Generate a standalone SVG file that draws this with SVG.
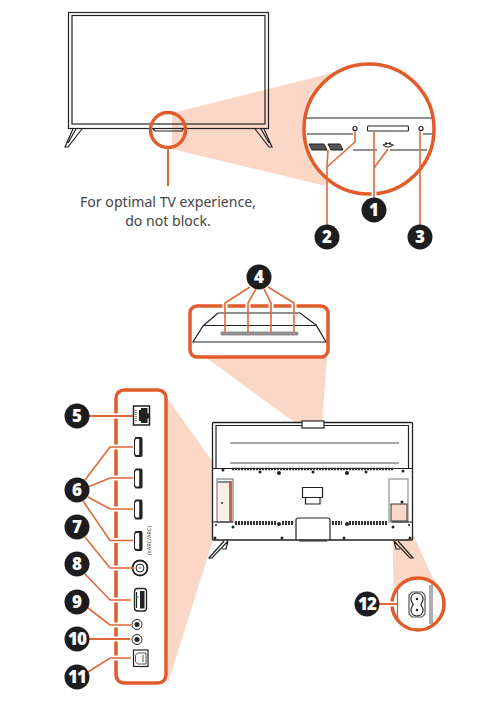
<svg xmlns="http://www.w3.org/2000/svg" width="487" height="703" viewBox="0 0 487 703">
<defs>
<style>
.o{fill:none;stroke:#E25B2A;stroke-width:3.5}
.l{fill:none;stroke:#E0683A;stroke-width:1.6}
.h{fill:none;stroke:#fff;stroke-width:5}
.k{fill:none;stroke:#222;stroke-width:1.2}
.g{fill:none;stroke:#8a8a8a;stroke-width:1.6}
.p{fill:#FAD7C6;stroke:none}
.b{fill:#1d1d1f}
.n{fill:#fff;font-family:"Open Sans","Liberation Sans",sans-serif;font-weight:800;font-size:17px;text-anchor:middle}
.t{fill:#444;font-family:"Noto Sans","Liberation Sans",sans-serif;font-size:14.1px;text-anchor:middle}
.s{fill:#222}
</style>
<g id="badge"><circle r="12.5" class="b"/></g>
<g id="hdmi"><path d="M1.500 0H7Q8.500 0 8.500 2V18Q8.500 20 7 20H1.500L0 17.500V2.500Z" fill="#222"/><path d="M2 2H5.200V18H2L1 16.500V3.500Z" fill="#fff"/></g>
</defs>

<g id="wedges">
<polygon class="p" points="172,113 336,72 326,186 172,149"/>
<polygon class="p" points="205,357 327,357 322,425 298,425"/>
<polygon class="p" points="165,395 220,472 220,518 168,683"/>
<polygon class="p" points="392,521 407,521 436,585 394,600"/>
</g>

<g id="front-tv">
<rect x="68.500" y="12.500" width="200" height="116" class="k"/>
<rect x="72" y="15.500" width="193" height="108.500" class="k"/>
<path d="M73 129L65 147L68 147L78 134L82 129M76 129L68 143M264 129L272 147L269 147L259 134L255 129M261 129L269 143" class="k"/>
<path d="M153 129L155 131H182L183 129" class="k"/>
<circle cx="168" cy="130" r="17.500" class="o"/>
<line x1="168" y1="148" x2="168" y2="186" class="l" style="stroke-width:2"/>
<text class="t" x="168" y="207">For optimal TV experience,</text>
<text class="t" x="168" y="226">do not block.</text>
</g>

<g id="zoom-circle">
<circle cx="369" cy="129" r="65" fill="#fff" stroke="none"/>
<path d="M305 118H433M307 134H353M423 134H432M353 150H377M390 150H427" class="k"/>
<rect x="367.500" y="126" width="41" height="5" rx="1" class="k"/>
<circle cx="355" cy="128.500" r="2" class="k"/>
<circle cx="421" cy="128.500" r="2" class="k"/>
<path d="M309 144H324L327 150H312ZM328 144H340L343 150H331Z" fill="#555" stroke="#222" stroke-width="1"/>
<path d="M383 145Q388 142 393 145Q388 149 383 145M386 145V142M390 145V142" class="k"/>
<circle cx="369" cy="129" r="65" class="o" stroke-width="4"/>
</g>

<g id="connectors">
<path class="h" d="M374 188V198M327 184V194M420 184V194"/>
<path class="l" d="M374 198V131M374 168L388 149M327 225V167L355 142V131M327 167L328 150M420 225V131"/>
</g>
<g id="n1"><use href="#badge" x="374" y="210"/><text class="n" x="374" y="216">1</text></g>
<g id="n2"><use href="#badge" x="327" y="237"/><text class="n" x="327" y="243">2</text></g>
<g id="n3"><use href="#badge" x="420" y="237"/><text class="n" x="420" y="243">3</text></g>

<g id="top-detail">
<rect x="190" y="306" width="138" height="51" rx="7" fill="#fff" stroke="none"/>
<path d="M193 342L203 326L218 313H300L316 325L326 342ZM203 325.500H316" class="k"/>
<rect x="221" y="332" width="77" height="3" rx="1" fill="#9a9a9a" stroke="#555" stroke-width=".6"/>
<rect x="190" y="306" width="138" height="51" rx="7" class="o"/>
<path class="h" d="M225 300V312M248 300V312M271 300V312M294 300V312"/>
<path class="l" d="M250 287L225 303V333M256 289L248 303V333M264 289L271 303V333M268 287L294 303V333"/>
</g>
<g id="n4"><use href="#badge" x="259" y="277"/><text class="n" x="259" y="283">4</text></g>

<g id="back-tv">
<rect x="212.500" y="422.500" width="200" height="117.500" rx="1" fill="#fff" stroke="#222" stroke-width="1.300"/>
<path d="M216 468V425.500H408.500V468M212 468.500H413" class="k"/>
<path d="M230 443H399M230 463H399" class="g"/>
<rect x="302" y="421" width="22" height="7" fill="#fff" stroke="#222" stroke-width="1.200"/>
<path d="M232 469H394" stroke="#333" stroke-width="2.500" stroke-dasharray="2 1" fill="none"/>
<rect x="217" y="479" width="16" height="43" fill="#fff" stroke="#666" stroke-width="1"/>
<rect x="218" y="481" width="11" height="2" fill="#888"/>
<rect x="229" y="481" width="3" height="40" fill="#C9673F"/>
<rect x="218" y="483" width="11" height="37" fill="#FAD7C6" opacity=".4"/>
<rect x="389" y="479" width="19" height="43" fill="#fff" stroke="#999" stroke-width="1.300"/>
<rect x="391" y="504" width="16" height="17" fill="#FAD7C6" stroke="#333" stroke-width="1"/>
<path d="M302.500 487.500H322.500V497.500H302.500ZM305.500 497.500H320V504H305.500Z" class="k"/>
<path d="M235 523H277M282 523H294M332 523H342M349 523H388" stroke="#333" stroke-width="4" stroke-dasharray="2 1" fill="none"/>
<path d="M212 522H233M392 522H413" class="k"/>
<path d="M296 540V520Q296 518 298 518H328Q330 518 330 520V540M299 541H327" class="k"/>
<g class="s">
<circle cx="223" cy="470" r="1.500"/><circle cx="260" cy="472" r="1.500"/><circle cx="279" cy="473" r="2"/><circle cx="313" cy="472" r="1.500"/><circle cx="347" cy="473" r="2"/><circle cx="366" cy="472" r="1.500"/><circle cx="403" cy="471" r="1.500"/>
<circle cx="222" cy="503" r="1"/><circle cx="402" cy="502" r="1.500"/><circle cx="279" cy="524" r="2"/><circle cx="347" cy="524" r="2"/>
<circle cx="216" cy="525" r="1"/><circle cx="409" cy="525" r="1"/><circle cx="233" cy="527" r="1.500"/><circle cx="393" cy="527" r="1.500"/>
<circle cx="215" cy="538" r="1.500"/><circle cx="282" cy="538" r="1.500"/><circle cx="344" cy="538" r="1.500"/><circle cx="410" cy="538" r="1.500"/>
</g>
<path d="M224 541L209 558L212 558L228 541M222 549L226 549L228 541M398 541L413 558L410 558L394 541M400 549L396 549L394 541" class="k"/>
</g>

<g id="port-panel">
<rect x="116" y="390" width="50" height="293" rx="8" fill="#fff" stroke="none"/>
<rect x="116" y="390" width="50" height="293" rx="8" class="o"/>
<path class="h" d="M112 416H120M112 447H120M112 478H120M112 509H120M112 540.500H120M112 568H120M112 600H120M112 625H120M112 639H120M112 658H120"/>
<g id="ports">
<rect x="133.500" y="406" width="16" height="19" fill="#fff" stroke="#222" stroke-width="1.500"/>
<path d="M141 408H147.500V413L149 414V418L147.500 419V423H141V421H139V410H141Z" fill="#222"/>
<path d="M136 410V421" stroke="#888" stroke-width="2" stroke-dasharray="1 1" fill="none"/>
<use href="#hdmi" x="134" y="437"/>
<use href="#hdmi" x="134" y="468.500"/>
<use href="#hdmi" x="134" y="499.500"/>
<use href="#hdmi" x="134" y="531"/>
<text transform="translate(151,555) rotate(-90)" font-family="Open Sans,Liberation Sans,sans-serif" font-size="5.500" fill="#444">(eARC/ARC)</text>
<circle cx="140" cy="568" r="7.500" fill="#fff" stroke="#222" stroke-width="1.800"/><circle cx="140" cy="568" r="4" fill="none" stroke="#222"/><circle cx="140" cy="568" r=".8" fill="#222"/>
<rect x="134.500" y="588.500" width="12" height="22.500" rx="3" fill="#fff" stroke="#222" stroke-width="1.300"/>
<path d="M140 591H144.500V608.500H140Z" fill="#222"/>
<path d="M136.500 592V608" stroke="#222" stroke-width="1.200"/>
<circle cx="137.500" cy="597" r="1" fill="#7a8aa8"/>
<circle cx="137" cy="624.500" r="5" fill="#fff" stroke="#222"/><circle cx="137" cy="624.500" r="2.500" fill="#222"/>
<circle cx="137" cy="639.500" r="5" fill="#fff" stroke="#222"/><circle cx="137" cy="639.500" r="2.500" fill="#222"/>
<rect x="133.500" y="650" width="14.500" height="16.500" fill="#fff" stroke="#222" stroke-width="1.200"/>
<path d="M135.500 655L138 653H146V664H138L135.500 662ZM143 655V662" fill="none" stroke="#444" stroke-width=".9"/>
</g>
</g>
<g id="port-connectors">
<path class="l" style="stroke-width:2" d="M77 416H133M77 639H130"/>
<path class="l" d="M85 480L110 447H133M88 487L110 478H133M88 497L110 509H133M83 501L110 540.500H133M85 537L110 568H133M85 574L110 600H131M88 608L110 625H131M88 672L110 658H131"/>
</g>
<g id="n5"><use href="#badge" x="77" y="416"/><text class="n" x="77" y="422">5</text></g>
<g id="n6"><use href="#badge" x="77" y="490"/><text class="n" x="77" y="496">6</text></g>
<g id="n7"><use href="#badge" x="77" y="527"/><text class="n" x="77" y="533">7</text></g>
<g id="n8"><use href="#badge" x="77" y="564"/><text class="n" x="77" y="570">8</text></g>
<g id="n9"><use href="#badge" x="77" y="602"/><text class="n" x="77" y="608">9</text></g>
<g id="n10"><use href="#badge" x="77" y="639"/><text class="n" x="77" y="645" letter-spacing="-1">10</text></g>
<g id="n11"><use href="#badge" x="77" y="677"/><text class="n" x="77" y="683" letter-spacing="-1">11</text></g>

<g id="power-detail">
<circle cx="418" cy="604" r="26" fill="#fff" stroke="none"/>
<path d="M397.500 590V618M430 585V624M432 582V626" stroke="#777" stroke-width="1.200" fill="none"/>
<path d="M412 592H422L425 595V614L422 617H412L409 614V595Z" fill="#fff" stroke="#555" stroke-width="1.200"/>
<path d="M417 593C421 593 423 596 423 599C423 602 421 603 421 604.500C421 606 423 607 423 610C423 613 421 616 417 616C413 616 411 613 411 610C411 607 413 606 413 604.500C413 603 411 602 411 599C411 596 413 593 417 593Z" fill="#fff" stroke="#222" stroke-width="1.200"/>
<circle cx="417" cy="599" r="1.200" fill="#222"/><circle cx="417" cy="610" r="1.200" fill="#222"/>
<circle cx="418" cy="604" r="26" class="o"/>
<path class="h" d="M388 604H397"/>
<path class="l" style="stroke-width:2" d="M367 604H397"/>
</g>
<g id="n12"><use href="#badge" x="367" y="604"/><text class="n" x="367" y="610" letter-spacing="-1">12</text></g>
</svg>
